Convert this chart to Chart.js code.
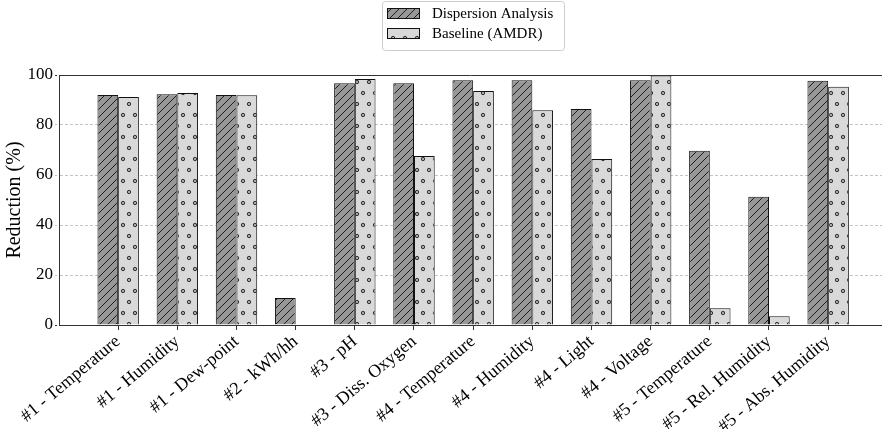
<!DOCTYPE html>
<html>
<head>
<meta charset="utf-8">
<script src="https://cdn.jsdelivr.net/npm/chart.js@4.4.1/dist/chart.umd.min.js"></script>
<style>
  html, body { margin: 0; padding: 0; background: #fff; overflow: hidden; }
  #wrap { width: 882px; height: 429px; }
</style>
</head>
<body>
<div id="wrap"><canvas id="chart" width="882" height="429"></canvas></div>
<script>
// values
const categories = [
  '#1 - Temperature', '#1 - Humidity', '#1 - Dew-point', '#2 - kWh/hh',
  '#3 - pH', '#3 - Diss. Oxygen', '#4 - Temperature', '#4 - Humidity',
  '#4 - Light', '#4 - Voltage', '#5 - Temperature', '#5 - Rel. Humidity',
  '#5 - Abs. Humidity'
];
const dispersionAnalysis = [92.0, 92.3, 92.0, 10.8, 96.7, 96.7, 97.9, 97.9, 86.4, 97.9, 69.7, 51.3, 97.7];
const baselineAMDR = [91.2, 92.8, 91.9, 0, 98.4, 67.6, 93.6, 85.9, 66.4, 99.8, 6.7, 3.5, 95.3];
const yTicks = [0, 20, 40, 60, 80, 100];

const SERIF = '"Liberation Serif", "DejaVu Serif", serif';
Chart.defaults.font.family = SERIF;
Chart.defaults.color = '#000';

const canvas = document.getElementById('chart');
const ctx = canvas.getContext('2d');

// matplotlib-like hatches
function hatchPattern() {
  const s = 8;
  const c = document.createElement('canvas');
  c.width = s; c.height = s;
  const g = c.getContext('2d');
  g.fillStyle = '#979797';
  g.fillRect(0, 0, s, s);
  g.strokeStyle = '#111';
  g.lineWidth = 0.9;
  g.beginPath();
  g.moveTo(-1, s + 1); g.lineTo(s + 1, -1);
  g.moveTo(-1, 1); g.lineTo(1, -1);
  g.moveTo(s - 1, s + 1); g.lineTo(s + 1, s - 1);
  g.stroke();
  return ctx.createPattern(c, 'repeat');
}

function dotPattern() {
  const w = 12, h = 22;
  const c = document.createElement('canvas');
  c.width = w; c.height = h;
  const g = c.getContext('2d');
  g.fillStyle = '#d9d9d9';
  g.fillRect(0, 0, w, h);
  g.strokeStyle = '#333';
  g.lineWidth = 1;
  [[3, 5], [9, 16]].forEach(([x, y]) => {
    g.beginPath();
    g.arc(x, y, 1.7, 0, Math.PI * 2);
    g.fillStyle = '#a8a8a8';
    g.fill();
    g.stroke();
  });
  return ctx.createPattern(c, 'repeat');
}

const toPoints = arr => arr.map((v, i) => ({ x: i, y: v }));

// top spine + boxed legend like the original
const framePlugin = {
  id: 'frame',
  afterDraw(chart) {
    const { ctx: c, chartArea: a } = chart;
    c.save();
    c.strokeStyle = '#333';
    c.lineWidth = 1;
    c.beginPath();
    c.moveTo(a.left, a.top + 0.5);
    c.lineTo(a.right, a.top + 0.5);
    c.stroke();

    // legend
    const lx = 382, ly = 1, lw = 182, lh = 49;
    c.fillStyle = '#fff';
    c.strokeStyle = '#cccccc';
    c.beginPath();
    c.roundRect(lx + 0.5, ly + 0.5, lw, lh, 3);
    c.fill();
    c.stroke();
    c.font = '15px ' + SERIF;
    c.textBaseline = 'middle';
    chart.data.datasets.forEach((ds, i) => {
      const y = 8 + i * 20;
      c.fillStyle = ds.backgroundColor;
      c.fillRect(387, y, 33, 11);
      c.strokeStyle = '#111';
      c.strokeRect(387.5, y + 0.5, 32, 10);
      c.fillStyle = '#000';
      c.fillText(ds.label, 432, y + 6);
    });
    c.restore();
  }
};

new Chart(ctx, {
  type: 'bar',
  data: {
    datasets: [
      {
        label: 'Dispersion Analysis',
        data: toPoints(dispersionAnalysis),
        backgroundColor: hatchPattern(),
        borderColor: '#111',
        borderWidth: 1,
        categoryPercentage: 0.7,
        barPercentage: 1.0
      },
      {
        label: 'Baseline (AMDR)',
        data: toPoints(baselineAMDR),
        backgroundColor: dotPattern(),
        borderColor: '#111',
        borderWidth: 1,
        categoryPercentage: 0.7,
        barPercentage: 1.0
      }
    ]
  },
  options: {
    responsive: false,
    devicePixelRatio: 1,
    animation: false,
    layout: { padding: { top: 75, left: 0, right: 0, bottom: 0 } },
    plugins: {
      legend: { display: false },
      tooltip: { enabled: false }
    },
    scales: {
      x: {
        type: 'linear',
        min: -1,
        max: 12.91,
        offset: false,
        afterBuildTicks: scale => {
          scale.ticks = categories.map((_, i) => ({ value: i }));
        },
        afterFit: scale => { scale.height = 104; },
        ticks: {
          autoSkip: false,
          minRotation: 40,
          maxRotation: 40,
          padding: 1,
          font: { size: 18 },
          callback: v => categories[v] ?? ''
        },
        grid: {
          offset: false,
          drawOnChartArea: false,
          tickLength: 5,
          tickColor: '#333'
        },
        border: { color: '#333', width: 1 }
      },
      y: {
        min: 0,
        max: 100,
        afterBuildTicks: scale => {
          scale.ticks = yTicks.map(v => ({ value: v }));
        },
        afterFit: scale => { scale.width = 59; },
        ticks: {
          padding: 2,
          font: { size: 17 }
        },
        title: {
          display: true,
          text: 'Reduction (%)',
          font: { size: 20 },
          padding: { top: 3, bottom: 0 }
        },
        grid: {
          color: ctx => (ctx.tick && (ctx.tick.value === 0 || ctx.tick.value === 100)) ? 'rgba(0,0,0,0)' : '#c4c4c4',
          tickLength: 4,
          tickColor: ctx => (ctx.tick && (ctx.tick.value === 0 || ctx.tick.value === 100)) ? '#333' : '#c4c4c4',
          tickBorderDash: [2, 2]
        },
        border: { color: '#333', width: 1, dash: [3, 2] }
      }
    }
  },
  plugins: [framePlugin]
});
</script>
</body>
</html>
